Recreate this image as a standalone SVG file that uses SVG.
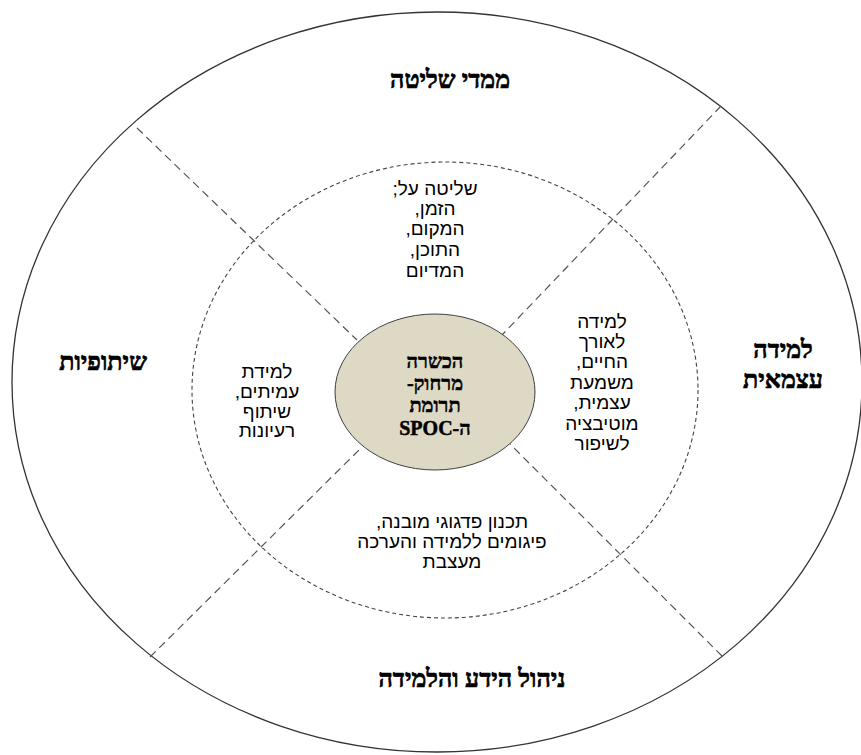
<svg xmlns="http://www.w3.org/2000/svg" width="861" height="755" viewBox="0 0 861 755">
<style>
.title{font-family:"Liberation Serif","DejaVu Serif",serif;font-weight:bold;font-size:25px;fill:#000;stroke:#000;stroke-width:0.7;text-anchor:middle}
.body{font-family:"Liberation Sans","DejaVu Sans",sans-serif;font-size:19px;fill:#000;text-anchor:middle}
.core{font-family:"Liberation Serif","DejaVu Serif",serif;font-weight:bold;font-size:20px;fill:#000;stroke:#000;stroke-width:0.5;text-anchor:middle}
.div{stroke:#555;stroke-width:1.2;stroke-dasharray:8 5;fill:none}
</style>
<rect width="861" height="755" fill="#fff"/>
<g id="outer"><ellipse cx="437" cy="382" rx="425" ry="370" fill="none" stroke="#333" stroke-width="1.3"/></g>
<g id="inner"><ellipse cx="445" cy="390" rx="253" ry="228" fill="none" stroke="#444" stroke-width="1.1" stroke-dasharray="4 3"/></g>
<g id="connectors">
<line class="div" x1="137" y1="128" x2="357" y2="340"/>
<line class="div" x1="721" y1="106" x2="502" y2="335"/>
<line class="div" x1="150" y1="657" x2="361" y2="448"/>
<line class="div" x1="722" y1="656" x2="510" y2="444"/>
</g>
<g id="core">
<ellipse cx="435" cy="392" rx="100" ry="78" fill="#ddd9c4" stroke="#404040" stroke-width="1"/>
<text class="core" direction="rtl" x="435" y="368">הכשרה</text>
<text class="core" direction="rtl" x="435" y="390">מרחוק-</text>
<text class="core" direction="rtl" x="435" y="412">תרומת</text>
<text class="core" direction="rtl" x="435" y="435">ה-SPOC</text>
</g>
<g id="top-title"><text class="title" direction="rtl" x="450" y="88">ממדי שליטה</text></g>
<g id="right-title">
<text class="title" direction="rtl" x="783" y="358">למידה</text>
<text class="title" direction="rtl" x="783" y="388">עצמאית</text>
</g>
<g id="left-title"><text class="title" direction="rtl" x="103" y="370">שיתופיות</text></g>
<g id="bottom-title"><text class="title" direction="rtl" x="472" y="687">ניהול הידע והלמידה</text></g>
<g id="top-text">
<text class="body" direction="rtl" x="435" y="195">שליטה על;</text>
<text class="body" direction="rtl" x="435" y="215">הזמן,</text>
<text class="body" direction="rtl" x="435" y="235">המקום,</text>
<text class="body" direction="rtl" x="435" y="256">התוכן,</text>
<text class="body" direction="rtl" x="435" y="277">המדיום</text>
</g>
<g id="right-text">
<text class="body" direction="rtl" x="602" y="328">למידה</text>
<text class="body" direction="rtl" x="602" y="348">לאורך</text>
<text class="body" direction="rtl" x="602" y="368">החיים,</text>
<text class="body" direction="rtl" x="602" y="389">משמעת</text>
<text class="body" direction="rtl" x="602" y="409">עצמית,</text>
<text class="body" direction="rtl" x="602" y="430">מוטיבציה</text>
<text class="body" direction="rtl" x="602" y="450">לשיפור</text>
</g>
<g id="left-text">
<text class="body" direction="rtl" x="267" y="378">למידת</text>
<text class="body" direction="rtl" x="267" y="398">עמיתים,</text>
<text class="body" direction="rtl" x="267" y="418">שיתוף</text>
<text class="body" direction="rtl" x="267" y="437">רעיונות</text>
</g>
<g id="bottom-text">
<text class="body" direction="rtl" x="452" y="528">תכנון פדגוגי מובנה,</text>
<text class="body" direction="rtl" x="452" y="548">פיגומים ללמידה והערכה</text>
<text class="body" direction="rtl" x="452" y="568">מעצבת</text>
</g>
</svg>
